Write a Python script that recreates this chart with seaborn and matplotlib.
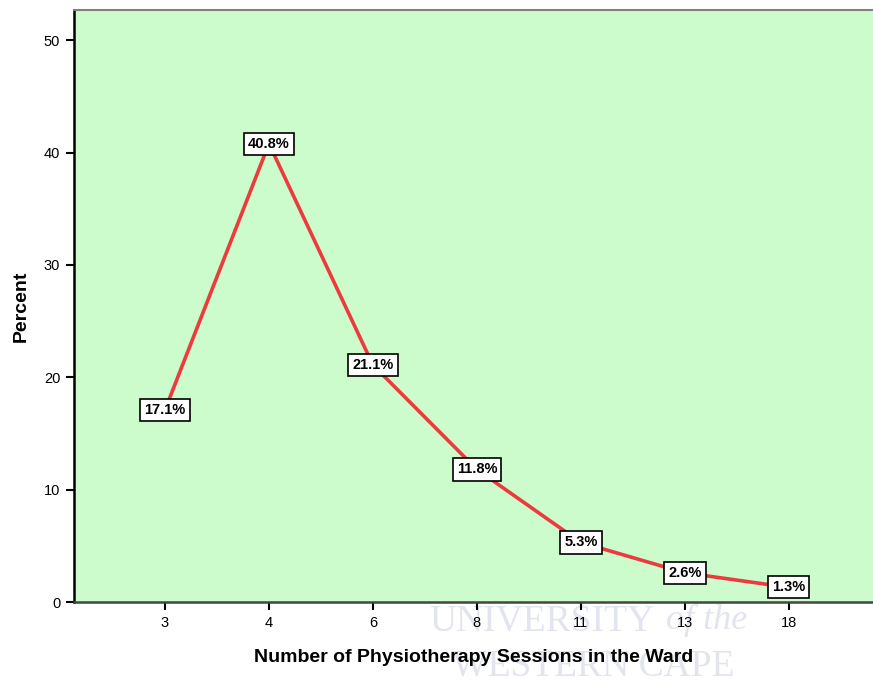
import matplotlib
matplotlib.use("Agg")
import matplotlib.pyplot as plt
import seaborn as sns

# data
sessions = ["3", "4", "6", "8", "11", "13", "18"]
percent = [17.1, 40.8, 21.1, 11.8, 5.3, 2.6, 1.3]
y_ticks = [0, 10, 20, 30, 40, 50]

sns.set_theme(style="white")
plt.rcParams["font.family"] = ["Liberation Sans", "DejaVu Sans"]
plt.rcParams["text.color"] = "black"
plt.rcParams["axes.labelcolor"] = "black"
plt.rcParams["xtick.color"] = "black"
plt.rcParams["ytick.color"] = "black"

fig = plt.figure(figsize=(8.73, 6.8), dpi=100)

# faint watermark text from the scanned page (kept behind the axes)
wm = "#e2e4ee"
fig.text(0.75, 0.087, "UNIVERSITY", fontsize=27, family="Liberation Serif",
         color=wm, ha="right", va="center", zorder=-1)
fig.text(0.809, 0.087, "of the", fontsize=26, family="Liberation Serif",
         style="italic", color=wm, ha="center", va="center", zorder=-1)
fig.text(0.68, 0.02, "WESTERN CAPE", fontsize=27, family="Liberation Serif",
         color=wm, ha="center", va="center", zorder=-1)

ax = fig.add_axes([0.0848, 0.1147, 0.9152, 0.8706])
ax.set_zorder(1)
ax.set_facecolor("#ccfccc")

pos = list(range(len(sessions)))
sns.lineplot(x=pos, y=percent, ax=ax, color="#ec3b3f", linewidth=2.6,
             sort=False, zorder=2)

for x, v in zip(pos, percent):
    ax.text(x, v, f"{v:.1f}%", ha="center", va="center", fontsize=10.5,
            fontweight="bold", color="black", zorder=3,
            bbox=dict(boxstyle="square,pad=0.28", fc="white", ec="black", lw=1.2))

ax.set_xlim(-0.875, 6.81)
ax.set_ylim(0, 52.7)
ax.set_xticks(pos)
ax.set_xticklabels(sessions)
ax.set_yticks(y_ticks)
ax.tick_params(axis="both", which="both", direction="out", length=6, width=1.5,
               color="black", labelcolor="black", labelsize=10.5, pad=4,
               bottom=True, left=True)

for side in ["left", "bottom"]:
    ax.spines[side].set_visible(True)
    ax.spines[side].set_linewidth(1.8)
ax.spines["left"].set_color("black")
ax.spines["bottom"].set_color("#444444")
ax.spines["top"].set_color("#808080")
ax.spines["top"].set_linewidth(1.5)
ax.spines["right"].set_visible(False)

ax.set_xlabel("Number of Physiotherapy Sessions in the Ward", fontsize=14,
              fontweight="bold", labelpad=14, color="black")
ax.set_ylabel("Percent", fontsize=14, fontweight="bold", labelpad=10,
              color="black")

fig.savefig("out.png", dpi=100)
